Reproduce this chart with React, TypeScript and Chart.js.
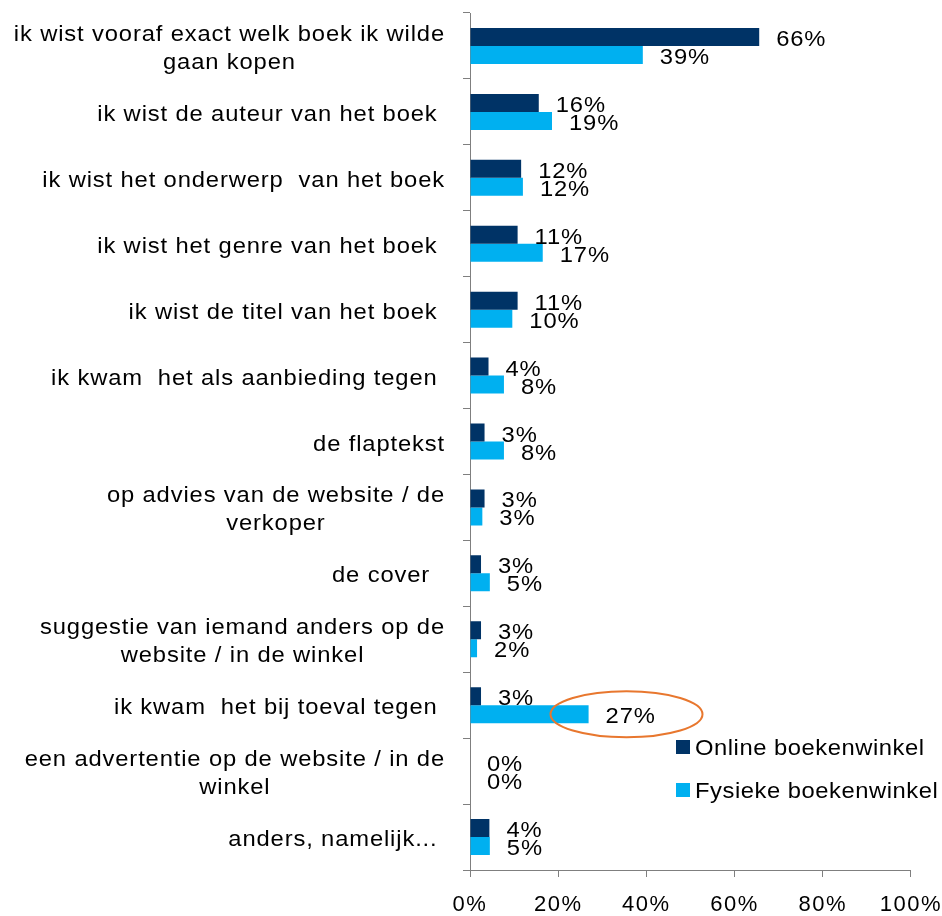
import React, { useEffect, useRef } from 'react';
import { Chart, registerables } from 'chart.js';

Chart.register(...registerables);

const FONT = '"Liberation Sans", Arial, sans-serif';
const AXIS_SPACING = '1.5px';
const TEXT_SPACING = '0.8px';
const LEGEND_SPACING = '0.5px';
const SX = 1.08;

const categories: string[][] = [
  ['ik wist vooraf exact welk boek ik wilde', 'gaan kopen'],
  ['ik wist de auteur van het boek '],
  ['ik wist het onderwerp  van het boek'],
  ['ik wist het genre van het boek '],
  ['ik wist de titel van het boek '],
  ['ik kwam  het als aanbieding tegen '],
  ['de flaptekst'],
  ['op advies van de website / de', 'verkoper'],
  ['de cover  '],
  ['suggestie van iemand anders op de', 'website / in de winkel'],
  ['ik kwam  het bij toeval tegen '],
  ['een advertentie op de website / in de', 'winkel'],
  ['anders, namelijk... '],
];

const onlineValues = [65.6, 15.6, 11.6, 10.8, 10.8, 4.2, 3.3, 3.3, 2.5, 2.5, 2.5, 0, 4.4];
const fysiekeValues = [39.2, 18.6, 12.0, 16.5, 9.6, 7.7, 7.7, 2.8, 4.5, 1.6, 26.9, 0, 4.5];

const seriesNames = ['Online boekenwinkel', 'Fysieke boekenwinkel'];
const seriesColors = ['#003366', '#00B0F0'];

const xMin = 0;
const xMax = 100;
const xStep = 20;

const highlightIndex = 10; // "ik kwam het bij toeval tegen", fysieke
const highlightCenterValue = 35.5;

function drawStretched(ctx: any, text: string, x: number, y: number, align: 'left' | 'right' | 'center') {
  const w = ctx.measureText(text).width * SX;
  const left = align === 'left' ? x : align === 'right' ? x - w : x - w / 2;
  ctx.save();
  ctx.translate(left, y);
  ctx.scale(SX, 1);
  ctx.textAlign = 'left';
  ctx.fillText(text, 0, 0);
  ctx.restore();
}

function setTextStyle(ctx: any) {
  ctx.letterSpacing = TEXT_SPACING;
  ctx.font = `22px ${FONT}`;
  ctx.fillStyle = '#000';
  ctx.textBaseline = 'middle';
}

const spacingPlugin = {
  id: 'spacing',
  beforeUpdate(chart: any) {
    chart.ctx.letterSpacing = AXIS_SPACING;
  },
  beforeDraw(chart: any) {
    chart.ctx.letterSpacing = AXIS_SPACING;
  },
};

const categoryLabelPlugin = {
  id: 'categoryLabels',
  afterDraw(chart: any) {
    const ctx = chart.ctx;
    const yScale = chart.scales.y;
    const rightEdge = chart.chartArea.left - 25;
    const lh = 28;
    ctx.save();
    setTextStyle(ctx);
    categories.forEach((lines, i) => {
      const yc = yScale.getPixelForValue(i) + 3;
      const w = Math.max(...lines.map((l) => ctx.measureText(l).width * SX));
      const xc = rightEdge - w / 2;
      lines.forEach((line, k) => {
        const y = yc - ((lines.length - 1) * lh) / 2 + k * lh;
        drawStretched(ctx, line, xc, y, 'center');
      });
    });
    ctx.restore();
  },
};

const valueLabelPlugin = {
  id: 'valueLabels',
  afterDatasetsDraw(chart: any) {
    const ctx = chart.ctx;
    ctx.save();
    setTextStyle(ctx);
    chart.data.datasets.forEach((ds: any, di: number) => {
      const meta = chart.getDatasetMeta(di);
      meta.data.forEach((el: any, i: number) => {
        const v = ds.data[i];
        drawStretched(ctx, Math.round(v) + '%', el.x + 17, el.y + 3, 'left');
      });
    });
    ctx.restore();
  },
};

const highlightPlugin = {
  id: 'highlight',
  afterDatasetsDraw(chart: any) {
    const ctx = chart.ctx;
    const el = chart.getDatasetMeta(1).data[highlightIndex];
    const cx = chart.scales.x.getPixelForValue(highlightCenterValue);
    ctx.save();
    ctx.strokeStyle = '#E8772E';
    ctx.lineWidth = 2;
    ctx.beginPath();
    ctx.ellipse(cx, el.y, 76, 23, 0, 0, Math.PI * 2);
    ctx.stroke();
    ctx.restore();
  },
};

const legendPlugin = {
  id: 'customLegend',
  afterDraw(chart: any) {
    const ctx = chart.ctx;
    const x0 = chart.chartArea.left + 206;
    const y0 = chart.chartArea.top + 727;
    ctx.save();
    setTextStyle(ctx);
    ctx.letterSpacing = LEGEND_SPACING;
    seriesNames.forEach((name, i) => {
      const y = y0 + i * 43;
      ctx.fillStyle = seriesColors[i];
      ctx.fillRect(x0, y, 14, 14);
      ctx.fillStyle = '#000';
      drawStretched(ctx, name, x0 + 19, y + 9, 'left');
    });
    ctx.restore();
  },
};

export default function App() {
  const ref = useRef<HTMLCanvasElement>(null);
  useEffect(() => {
    document.body.style.margin = '0';
    const chart = new Chart(ref.current as HTMLCanvasElement, {
      type: 'bar',
      data: {
        labels: categories.map((c) => c.join(' ')),
        datasets: [
          {
            label: seriesNames[0],
            data: onlineValues,
            backgroundColor: seriesColors[0],
            barPercentage: 1,
            categoryPercentage: 0.546,
          },
          {
            label: seriesNames[1],
            data: fysiekeValues,
            backgroundColor: seriesColors[1],
            barPercentage: 1,
            categoryPercentage: 0.546,
          },
        ],
      },
      options: {
        indexAxis: 'y',
        animation: false,
        responsive: false,
        layout: { padding: { left: 463, top: 13, right: 1, bottom: -16 } },
        plugins: { legend: { display: false }, tooltip: { enabled: false } },
        scales: {
          x: {
            min: xMin,
            max: xMax,
            ticks: {
              stepSize: xStep,
              callback: (v: any) => v + '%',
              color: '#000',
              font: { family: FONT, size: 22, lineHeight: 2.5 },
              padding: 0,
              maxRotation: 0,
            },
            grid: { drawOnChartArea: false, drawTicks: true, tickLength: 7, color: '#7F7F7F' },
            border: { display: true, color: '#7F7F7F', width: 1 },
          },
          y: {
            ticks: { display: false },
            grid: { drawOnChartArea: false, drawTicks: true, tickLength: 7, color: '#7F7F7F', offset: true },
            border: { display: true, color: '#7F7F7F', width: 1 },
          },
        },
      },
      plugins: [spacingPlugin, categoryLabelPlugin, valueLabelPlugin, highlightPlugin, legendPlugin],
    } as any);
    return () => chart.destroy();
  }, []);
  return (
    <div style={{ position: 'absolute', left: 0, top: 0 }}>
      <canvas ref={ref} width={942} height={916} style={{ width: 942, height: 916, display: 'block' }} />
    </div>
  );
}
